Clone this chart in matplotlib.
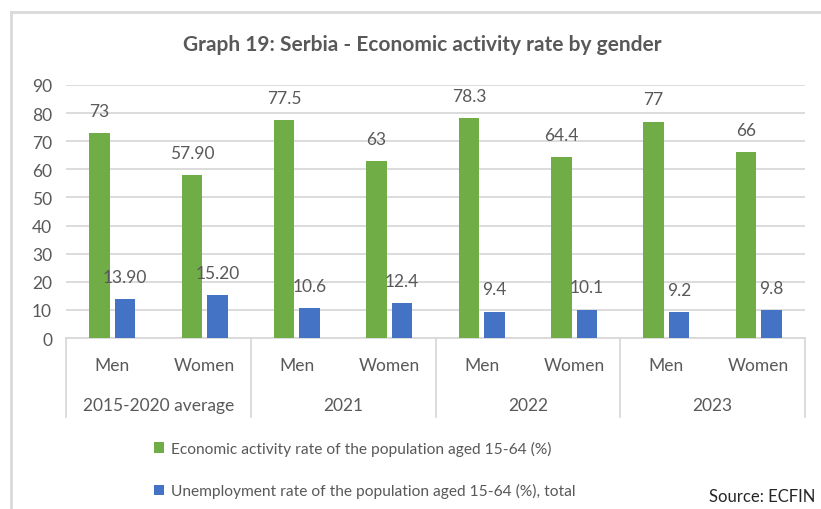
import matplotlib
matplotlib.use("Agg")
import matplotlib.pyplot as plt
import matplotlib.transforms as mtransforms
from matplotlib.lines import Line2D
import numpy as np

plt.rcParams['font.family'] = ['Lato', 'DejaVu Sans']

groups = ["2015-2020 average", "2021", "2022", "2023"]
genders = ["Men", "Women"]
activity = [73, 57.9, 77.5, 63, 78.3, 64.4, 77, 66]
activity_labels = ["73", "57.90", "77.5", "63", "78.3", "64.4", "77", "66"]
unemployment = [13.9, 15.2, 10.6, 12.4, 9.4, 10.1, 9.2, 9.8]
unemployment_labels = ["13.90", "15.20", "10.6", "12.4", "9.4", "10.1", "9.2", "9.8"]
series_names = ["Economic activity rate of the population aged 15-64 (%)",
                "Unemployment rate of the population aged 15-64 (%), total"]
title = "Graph 19: Serbia - Economic activity rate by gender"
source = "Source: ECFIN"

GREEN = "#70AD47"
BLUE = "#4472C4"
TXT = "#595959"
GRID = "#D9D9D9"

W, H = 821, 510
fig = plt.figure(figsize=(W / 100, H / 100), dpi=100)
ax = fig.add_axes([66 / W, (H - 339) / H, (805 - 66) / W, (339 - 86) / H])

n = len(activity)
x = np.arange(n)
bw = 0.222
off = 0.138
b1 = ax.bar(x - off, activity, bw, color=GREEN, zorder=3, label=series_names[0])
b2 = ax.bar(x + off, unemployment, bw, color=BLUE, zorder=3, label=series_names[1])

for xi, v, lab in zip(x, activity, activity_labels):
    ax.annotate(lab, (xi - off, v), xytext=(0, 16), textcoords="offset points",
                ha="center", va="center", fontsize=12.5, color=TXT, zorder=4)
for xi, v, lab in zip(x, unemployment, unemployment_labels):
    ax.annotate(lab, (xi + off, v), xytext=(0, 16), textcoords="offset points",
                ha="center", va="center", fontsize=12.5, color=TXT, zorder=4)

ax.set_xlim(-0.5, n - 0.5)
ax.set_ylim(0, 90)
ax.set_yticks(np.arange(0, 91, 10))
ax.yaxis.grid(True, color=GRID, linewidth=1.3, zorder=0)
ax.set_axisbelow(True)
ax.tick_params(axis="y", length=0, pad=10, labelsize=12.5, labelcolor=TXT)
ax.set_xticks([])
for s in ["top", "right", "left"]:
    ax.spines[s].set_visible(False)
ax.spines["bottom"].set_color(GRID)
ax.spines["bottom"].set_linewidth(1.3)

trans = mtransforms.blended_transform_factory(ax.transData, ax.transAxes)
ah = 339 - 86
for i in range(n):
    ax.text(x[i], -27 / ah, genders[i % 2], transform=trans, ha="center", va="center",
            fontsize=12.5, color=TXT)
for g, name in enumerate(groups):
    ax.text(2 * g + 0.5, -67 / ah, name, transform=trans, ha="center", va="center",
            fontsize=12.5, color=TXT)
for b in np.arange(-0.5, n, 2):
    ax.add_line(Line2D([b, b], [0, -79 / ah], transform=trans, color=GRID,
                       linewidth=1.3, clip_on=False))

fig.text(422 / W, 1 - 45 / H, title, ha="center", va="center", fontsize=15,
         fontweight="bold", color=TXT)

leg = fig.legend(handles=[b1, b2], loc="upper left",
                 bbox_to_anchor=(140 / W, 1 - 428 / H), frameon=False,
                 fontsize=11.2, labelcolor=TXT, handlelength=0.65, handleheight=0.65,
                 handletextpad=0.45, labelspacing=1.75)

fig.text(815 / W, 1 - 497 / H, source, ha="right", va="center", fontsize=12,
         color="#262626")

fig.add_artist(Line2D([11 / W, 11 / W], [0, 1 - 13 / H], color=GRID, linewidth=2))
fig.add_artist(Line2D([11 / W, 1], [1 - 13 / H, 1 - 13 / H], color=GRID, linewidth=2))

fig.savefig("out.png", dpi=100)
